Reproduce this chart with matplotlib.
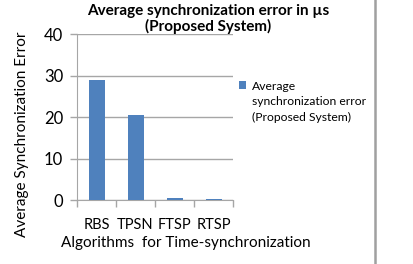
import matplotlib.pyplot as plt
from matplotlib.patches import Patch
from matplotlib.lines import Line2D

plt.rcParams['font.family'] = ['Lato', 'DejaVu Sans']

algorithms = ['RBS', 'TPSN', 'FTSP', 'RTSP']
sync_error = [29.0, 20.5, 0.5, 0.2]
yticks = [0, 10, 20, 30, 40]
series_name = 'Average synchronization error (Proposed System)'

bar_color = '#4f81bd'
grid_color = '#a6a6a6'

fig = plt.figure(figsize=(4.14, 2.64), dpi=100)
ax = fig.add_axes([0.186, 0.242, 0.377, 0.629])

x = list(range(len(algorithms)))
ax.bar(x, sync_error, width=0.41, color=bar_color, zorder=3)

ax.set_xlim(-0.5, len(algorithms) - 0.5)
ax.set_ylim(0, 40)
ax.set_yticks(yticks)
ax.set_yticklabels([str(v) for v in yticks], fontsize=12)
ax.set_xticks(x)
ax.set_xticklabels(algorithms, fontsize=10.5)
ax.tick_params(axis='x', length=0, pad=13)
ax.tick_params(axis='y', length=5, width=1, color=grid_color, pad=5)
# category boundary ticks
ax.set_xticks([i - 0.5 for i in range(len(algorithms) + 1)], minor=True)
ax.tick_params(axis='x', which='minor', length=5, width=1, color=grid_color, direction='out')

ax.grid(axis='y', color=grid_color, linewidth=1, zorder=0)
for s in ['top', 'right']:
    ax.spines[s].set_visible(False)
for s in ['left', 'bottom']:
    ax.spines[s].set_color(grid_color)

fig.text(0.053, 0.49, 'Average Synchronization Error', rotation=90,
         ha='center', va='center', fontsize=11)
fig.text(0.45, 0.08, 'Algorithms  for Time-synchronization', ha='center',
         va='center', fontsize=11)
fig.text(0.503, 0.985, 'Average synchronization error in µs\n(Proposed System)',
         ha='center', va='top', fontsize=11, fontweight='bold', linespacing=1.1)

# legend: first line carries the swatch, the rest is wrapped text
words = ['Average', 'synchronization error', '(Proposed System)']
handles = [Patch(facecolor=bar_color, edgecolor='none'),
           Line2D([], [], linestyle='none'), Line2D([], [], linestyle='none')]
fig.legend(handles, words, loc='upper left', bbox_to_anchor=(0.577, 0.695),
           frameon=False, fontsize=8.7, handlelength=0.6, handleheight=0.6,
           handletextpad=0.5, labelspacing=0.4, borderpad=0, borderaxespad=0)

fig.add_artist(Line2D([0.906, 0.906], [0, 1], color='#a0a0a0', linewidth=1.8,
                      transform=fig.transFigure))

fig.savefig('out.png', dpi=100)
